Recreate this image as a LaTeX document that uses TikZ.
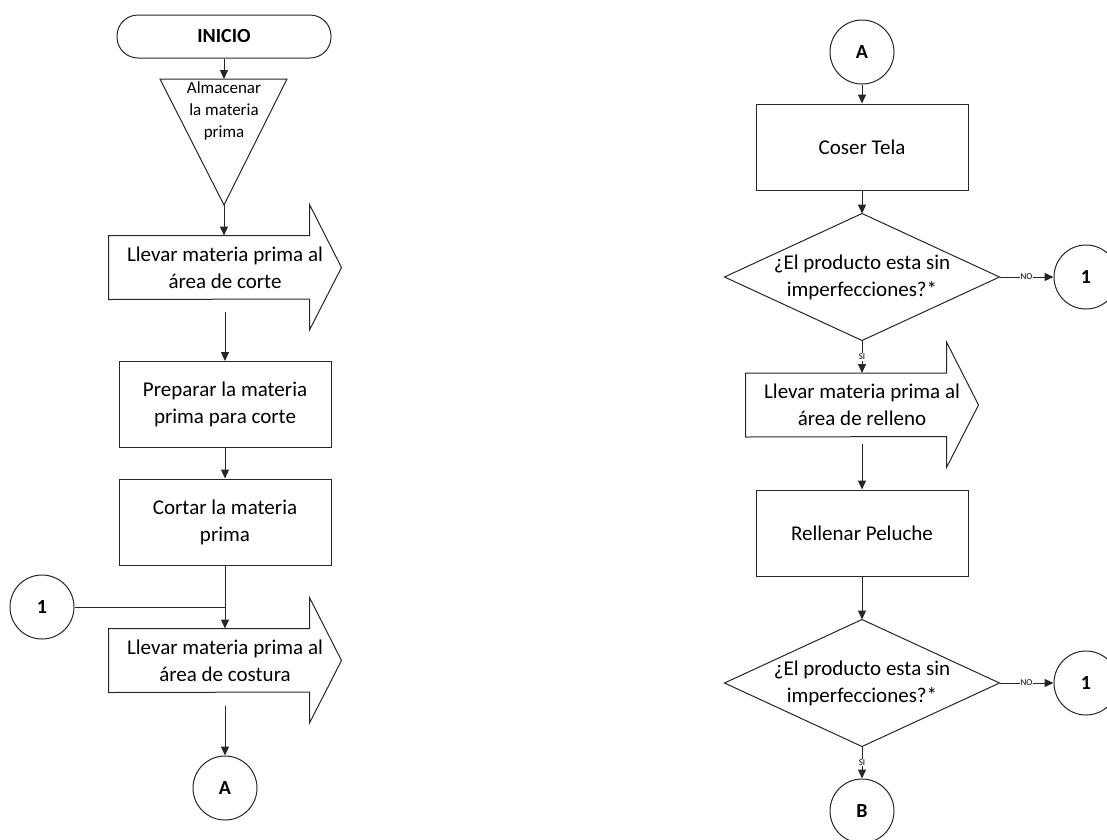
\documentclass[tikz,border=0pt]{standalone}
\usepackage{fontspec}
\setmainfont{Carlito}
\usetikzlibrary{arrows.meta}

\tikzset{
  terminal/.style={draw, rounded corners=21pt, minimum width=214pt, minimum height=43pt, font=\fontsize{20}{24}\selectfont\bfseries},
  proceso/.style={draw, minimum width=212pt, minimum height=86pt, align=center, font=\fontsize{21}{27}\selectfont},
  traslado/.style={minimum width=232pt, minimum height=63pt, align=center, inner sep=0pt, font=\fontsize{21}{27}\selectfont},
  decision/.style={minimum width=274pt, minimum height=126pt, align=center, inner sep=0pt, font=\fontsize{21}{27}\selectfont},
  almacen/.style={align=center, inner sep=0pt, font=\fontsize{17}{22}\selectfont},
  conector/.style={draw, circle, minimum size=64pt, inner sep=0pt, font=\fontsize{20}{24}\selectfont\bfseries},
  flecha/.style={-{Triangle[length=9pt,width=8pt]}},
  etiqueta/.style={fill=white, inner sep=1pt, font=\fontsize{9}{10}\selectfont},
}

\begin{document}
\begin{tikzpicture}[x=1pt, y=-1pt, line width=1pt, draw=black!85]
\useasboundingbox (0,0) rectangle (1107,839);

%left column
\node[terminal] (inicio) at (224,36.5) {INICIO};
\coordinate (almN) at (224,79);
\coordinate (almS) at (224,205);
\draw (160,79) -- (287,79) -- (almS) -- cycle;
\node[almacen] (alm) at (224,111) {Almacenar\\la materia\\prima};
\draw[flecha] (inicio.south) -- (almN);

\node[traslado] (corte) at (225,267.5) {Llevar materia prima al\\área de corte};
\draw (corte.north west) -- ([xshift=-32pt]corte.north east) -- ++(0,-31) -- (corte.east) -- ++(-32,62.5) -- ++(0,-31) -- (corte.south west) -- cycle;
\draw[flecha] (almS) -- (almS |- corte.north);

\node[proceso] (prep) at (225,404.5) {Preparar la materia\\prima para corte};
\draw[flecha] ([yshift=-12pt]corte.south) -- (prep.north);

\node[proceso] (cortar) at (225,522) {Cortar la materia\\prima};
\draw[flecha] (prep.south) -- (cortar.north);

\node[traslado] (costura) at (225,660.5) {Llevar materia prima al\\área de costura};
\draw (costura.north west) -- ([xshift=-32pt]costura.north east) -- ++(0,-31) -- (costura.east) -- ++(-32,62.5) -- ++(0,-31) -- (costura.south west) -- cycle;
\draw[flecha] (cortar.south) -- (costura.north);

\node[conector] (uno) at (42,607) {1};
\draw (uno.east) -- (uno.east -| cortar.south);

\node[conector] (conA) at (225,788) {A};
\draw[flecha] ([yshift=-13pt]costura.south) -- (conA.north);

%right column
\node[conector] (conA2) at (862,52) {A};
\node[proceso] (coser) at (862,147) {Coser Tela};
\draw[flecha] (conA2.south) -- (coser.north);

\node[decision] (dec1) at (862,277) {¿El producto esta sin\\imperfecciones?*};
\draw (dec1.north) -- (dec1.east) -- (dec1.south) -- (dec1.west) -- cycle;
\draw[flecha] (coser.south) -- (dec1.north);

\node[conector] (uno2) at (1086,277) {1};
\draw[flecha] (dec1.east) -- node[etiqueta] {NO} (uno2.west);

\node[traslado] (relleno) at (862,405) {Llevar materia prima al\\área de relleno};
\draw (relleno.north west) -- ([xshift=-32pt]relleno.north east) -- ++(0,-31) -- (relleno.east) -- ++(-32,62.5) -- ++(0,-31) -- (relleno.south west) -- cycle;
\draw[flecha] (dec1.south) -- node[etiqueta] {SI} (relleno.north);

\node[proceso] (peluche) at (862,533) {Rellenar Peluche};
\draw[flecha] ([yshift=-7pt]relleno.south) -- (peluche.north);

\node[decision] (dec2) at (862,683) {¿El producto esta sin\\imperfecciones?*};
\draw (dec2.north) -- (dec2.east) -- (dec2.south) -- (dec2.west) -- cycle;
\draw[flecha] (peluche.south) -- (dec2.north);

\node[conector] (uno3) at (1086,683) {1};
\draw[flecha] (dec2.east) -- node[etiqueta] {NO} (uno3.west);

\node[conector] (conB) at (862,811) {B};
\draw[flecha] (dec2.south) -- node[etiqueta] {SI} (conB.north);
\end{tikzpicture}
\end{document}
